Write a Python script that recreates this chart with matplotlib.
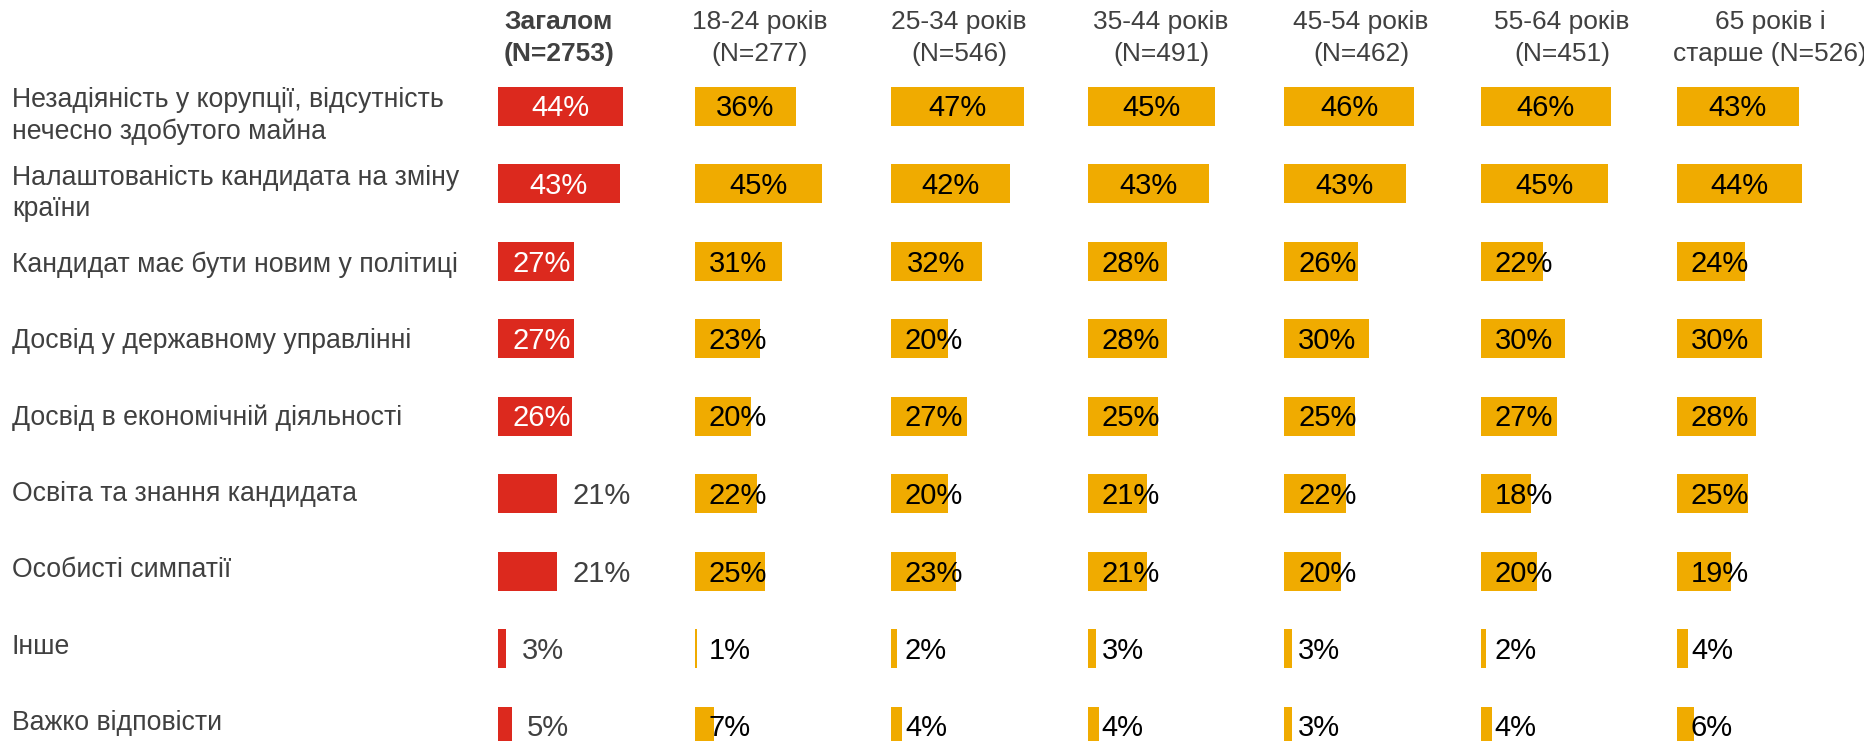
import matplotlib
matplotlib.use("Agg")
import matplotlib.pyplot as plt
from matplotlib.transforms import blended_transform_factory, offset_copy

plt.rcParams['font.family'] = ['Liberation Sans', 'DejaVu Sans']

categories = [
    "Незадіяність у корупції, відсутність\nнечесно здобутого майна",
    "Налаштованість кандидата на зміну\nкраїни",
    "Кандидат має бути новим у політиці",
    "Досвід у державному управлінні",
    "Досвід в економічній діяльності",
    "Освіта та знання кандидата",
    "Особисті симпатії",
    "Інше",
    "Важко відповісти",
]

headers = [
    "Загалом\n(N=2753)",
    "18-24 років\n(N=277)",
    "25-34 років\n(N=546)",
    "35-44 років\n(N=491)",
    "45-54 років\n(N=462)",
    "55-64 років\n(N=451)",
    "65 років і\nстарше (N=526)",
]

total = [44, 43, 27, 27, 26, 21, 21, 3, 5]
age_18_24 = [36, 45, 31, 23, 20, 22, 25, 1, 7]
age_25_34 = [47, 42, 32, 20, 27, 20, 23, 2, 4]
age_35_44 = [45, 43, 28, 28, 25, 21, 21, 3, 4]
age_45_54 = [46, 43, 26, 30, 25, 22, 20, 3, 3]
age_55_64 = [46, 45, 22, 30, 27, 18, 20, 2, 4]
age_65 = [43, 44, 24, 30, 28, 25, 19, 4, 6]

columns = [total, age_18_24, age_25_34, age_35_44, age_45_54, age_55_64, age_65]

RED = '#DC291E'
YELLOW = '#F0AB00'
GRAY = '#404040'

W, H = 1864, 741
PX_PER_PCT = 2.83
ROW_TOP = 106      # px from top, first row centre
ROW_STEP = 77.5
col_left = [498 + 196.5 * i for i in range(7)]
head_x = [559, 760, 959, 1161, 1361, 1562, 1770]
ax_w = 190

fig = plt.figure(figsize=(W / 100, H / 100), dpi=100)
renderer = fig.canvas.get_renderer()

ylim = ((H - ROW_TOP) / ROW_STEP, -ROW_TOP / ROW_STEP)
rows = list(range(len(categories)))

axes = []
for i, vals in enumerate(columns):
    ax = fig.add_axes([col_left[i] / W, 0, ax_w / W, 1])
    ax.set_xlim(0, ax_w / PX_PER_PCT)
    ax.set_ylim(*ylim)
    ax.axis('off')
    color = RED if i == 0 else YELLOW
    ax.barh(rows, vals, height=39 / ROW_STEP, color=color, edgecolor='none')
    axes.append(ax)

    lab_trans = offset_copy(ax.transData, fig=fig, y=-2.5, units='dots')
    for r, v in zip(rows, vals):
        t = ax.text(0, r, f"{v}%", fontsize=21, va='center', ha='center',
                    color='black', transform=lab_trans)
        tw_px = t.get_window_extent(renderer).width
        tw = tw_px / PX_PER_PCT
        if i == 0:
            if v * PX_PER_PCT > tw_px + 8:
                t.set_color('white')
                t.set_x(max(v / 2, 14 / PX_PER_PCT + tw / 2))
            else:
                # too short: label goes after the bar
                t.set_color(GRAY)
                t.set_ha('left')
                t.set_x(v + 15 / PX_PER_PCT)
        else:
            t.set_x(max(v / 2, 14 / PX_PER_PCT + tw / 2))

# category labels
trans = blended_transform_factory(fig.transFigure, axes[0].transData)
for r, cat in zip(rows, categories):
    if "\n" in cat:
        shift = -10
    else:
        shift = -4 + 1.2 * (r - 2)
    fig.text(12 / W, r, cat, fontsize=19.2, color=GRAY, va='center', ha='left',
             linespacing=1.25,
             transform=offset_copy(trans, fig=fig, y=shift, units='dots'))

# column headers
for i, h in enumerate(headers):
    fig.text(head_x[i] / W, 1 - 38 / H, h, fontsize=19, color=GRAY,
             ha='center', va='center', linespacing=1.4,
             fontweight='bold' if i == 0 else 'normal')

fig.savefig('out.png', dpi=100)
